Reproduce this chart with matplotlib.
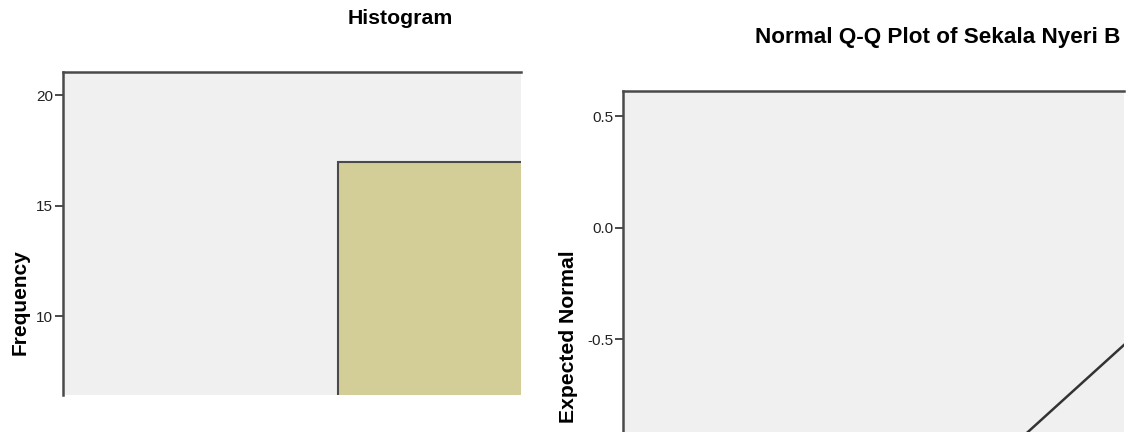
import matplotlib.pyplot as plt
import numpy as np

plt.rcParams['font.family'] = ['Liberation Sans', 'DejaVu Sans']

# Histogram data (only one bin visible in the crop)
bin_left = [0.6]
bin_width = [0.5]
counts = [17]
hist_yticks = [10, 15, 20]

# Q-Q plot reference line
qq_line_x = np.array([-2.6, -0.4])
qq_yticks = [-0.5, 0.0, 0.5]

W, H = 1136, 432
fig = plt.figure(figsize=(W / 100, H / 100), dpi=100)

edge = '#4a4a4a'
face = '#f0f0f0'


def px_axes(x0, y0, x1, y1):
    # pixel box (top-left origin) -> figure fraction
    return fig.add_axes([x0 / W, 1 - y1 / H, (x1 - x0) / W, (y1 - y0) / H])


def style(ax):
    ax.set_facecolor(face)
    for s in ['right', 'bottom']:
        ax.spines[s].set_visible(False)
    for s in ['left', 'top']:
        ax.spines[s].set_color(edge)
        ax.spines[s].set_linewidth(1.8)
    ax.tick_params(axis='y', direction='out', length=6, width=1.4, color=edge,
                   labelsize=11, pad=1, labelcolor='#222222')
    ax.set_xticks([])


# Left: histogram
ax1 = px_axes(63, 72, 521, 395)
style(ax1)
ax1.bar(bin_left, counts, width=bin_width, align='edge', color='#d3ce97',
        edgecolor=edge, linewidth=1.5)
ax1.set_xlim(0, 1)
ax1.set_ylim(6.45, 21.05)
ax1.set_yticks(hist_yticks)
ax1.set_yticklabels([str(t) for t in hist_yticks])

fig.text(400 / W, 1 - 19 / H, 'Histogram', ha='center', va='center',
         fontsize=15.3, fontweight='bold')
fig.text(20 / W, 1 - 302 / H, 'Frequency', ha='center', va='center',
         rotation=90, fontsize=15, fontweight='bold')

# Right: normal Q-Q plot
ax2 = px_axes(623, 91, 1124, 432)
style(ax2)
ax2.plot(qq_line_x, qq_line_x, color='#333333', linewidth=1.8)
ax2.set_xlim(-2.558, -0.525)
ax2.set_ylim(-0.915, 0.612)
ax2.set_yticks(qq_yticks)
ax2.set_yticklabels(['-0.5', '0.0', '0.5'])

fig.text(938 / W, 1 - 37 / H, 'Normal Q-Q Plot of Sekala Nyeri B', ha='center',
         va='center', fontsize=16.2, fontweight='bold')
fig.text(568 / W, 1 - 337 / H, 'Expected Normal', ha='center', va='center',
         rotation=90, fontsize=15.2, fontweight='bold')

fig.savefig('out.png', dpi=100, facecolor='white')
